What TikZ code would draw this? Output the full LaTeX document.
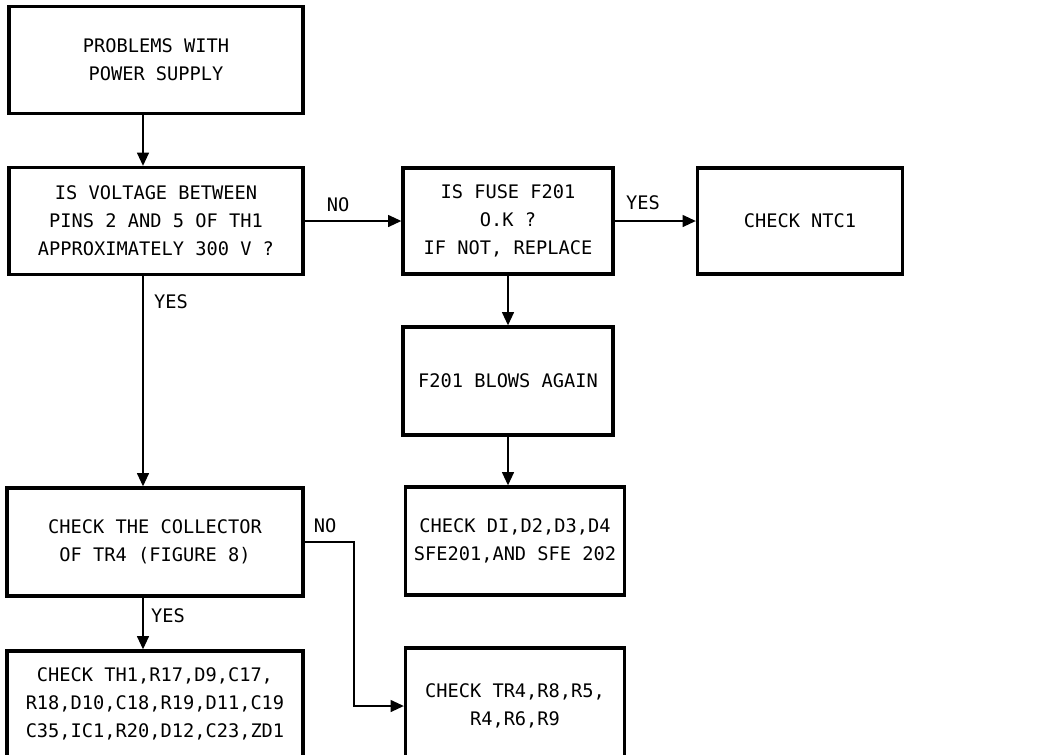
\documentclass[tikz,border=0pt]{standalone}
\usepackage{fontspec}
\newfontfamily\plotter{DejaVu Sans Mono}
\usetikzlibrary{arrows.meta}

\tikzset{every picture/.style={line width=0.75pt}}
\tikzset{
  box/.style={draw, line width=2.5pt, inner sep=0pt, align=center, font=\plotter\fontsize{14}{21}\selectfont},
  arr/.style={line width=1.2pt, -{Triangle[length=10pt,width=9pt]}},
  lbl/.style={font=\plotter\fontsize{14}{21}\selectfont, inner sep=0pt}
}

\begin{document}
\begin{tikzpicture}[x=0.75pt,y=0.75pt,yscale=-1,xscale=1]
        \useasboundingbox (0,0) rectangle (1043,754);
        \clip (0,0) rectangle (1043,754);

        \node[box, minimum width=220.5pt, minimum height=80.25pt] (problem) at (156,60) {PROBLEMS WITH\\POWER SUPPLY};
        \node[box, minimum width=220.5pt, minimum height=80.25pt] (voltage) at (156,221) {IS VOLTAGE BETWEEN\\PINS 2 AND 5 OF TH1\\APPROXIMATELY 300 V ?};
        \node[box, minimum width=157.5pt, minimum height=79.5pt] (fuse) at (508,221) {IS FUSE F201\\O.K ?\\IF NOT, REPLACE};
        \node[box, minimum width=153.75pt, minimum height=79.5pt] (ntc) at (800,221) {CHECK NTC1};
        \node[box, minimum width=157.5pt, minimum height=81pt] (blows) at (508,381) {F201 BLOWS AGAIN};
        \node[box, minimum width=164.25pt, minimum height=81pt] (diodes) at (515,541) {CHECK DI,D2,D3,D4\\SFE201,AND SFE 202};
        \node[box, minimum width=222pt, minimum height=81pt] (collector) at (155,542) {CHECK THE COLLECTOR\\OF TR4 (FIGURE 8)};
        \node[box, minimum width=222pt, minimum height=79.5pt] (thone) at (155,704) {CHECK TH1,R17,D9,C17,\\R18,D10,C18,R19,D11,C19\\C35,IC1,R20,D12,C23,ZD1};
        \node[box, minimum width=164.25pt, minimum height=87pt] (trfour) at (515,706) {CHECK TR4,R8,R5,\\R4,R6,R9};

        \coordinate (spine) at (143,0);
        \coordinate (jog) at (354,0);

        \draw[arr] (problem.south -| spine) -- (voltage.north -| spine);
        \draw[arr] (voltage.east) -- (fuse.west);
        \draw[arr] (fuse.east) -- (ntc.west);
        \draw[arr] (fuse.south) -- (blows.north);
        \draw[arr] (blows.south) -- (blows.south |- diodes.north);
        \draw[arr] (voltage.south -| spine) -- (collector.north -| spine);
        \draw[arr] (collector.south -| spine) -- (thone.north -| spine);
        \draw[arr] (collector.east) -- (collector.east -| jog) |- (trfour.west);

        \node[lbl] (noa) at (338,205) {NO};
        \node[lbl] (yesa) at (643,203) {YES};
        \node[lbl] (yesb) at (171,302) {YES};
        \node[lbl] (nob) at (325,526) {NO};
        \node[lbl] (yesc) at (168,616) {YES};
    \end{tikzpicture}
\end{document}
